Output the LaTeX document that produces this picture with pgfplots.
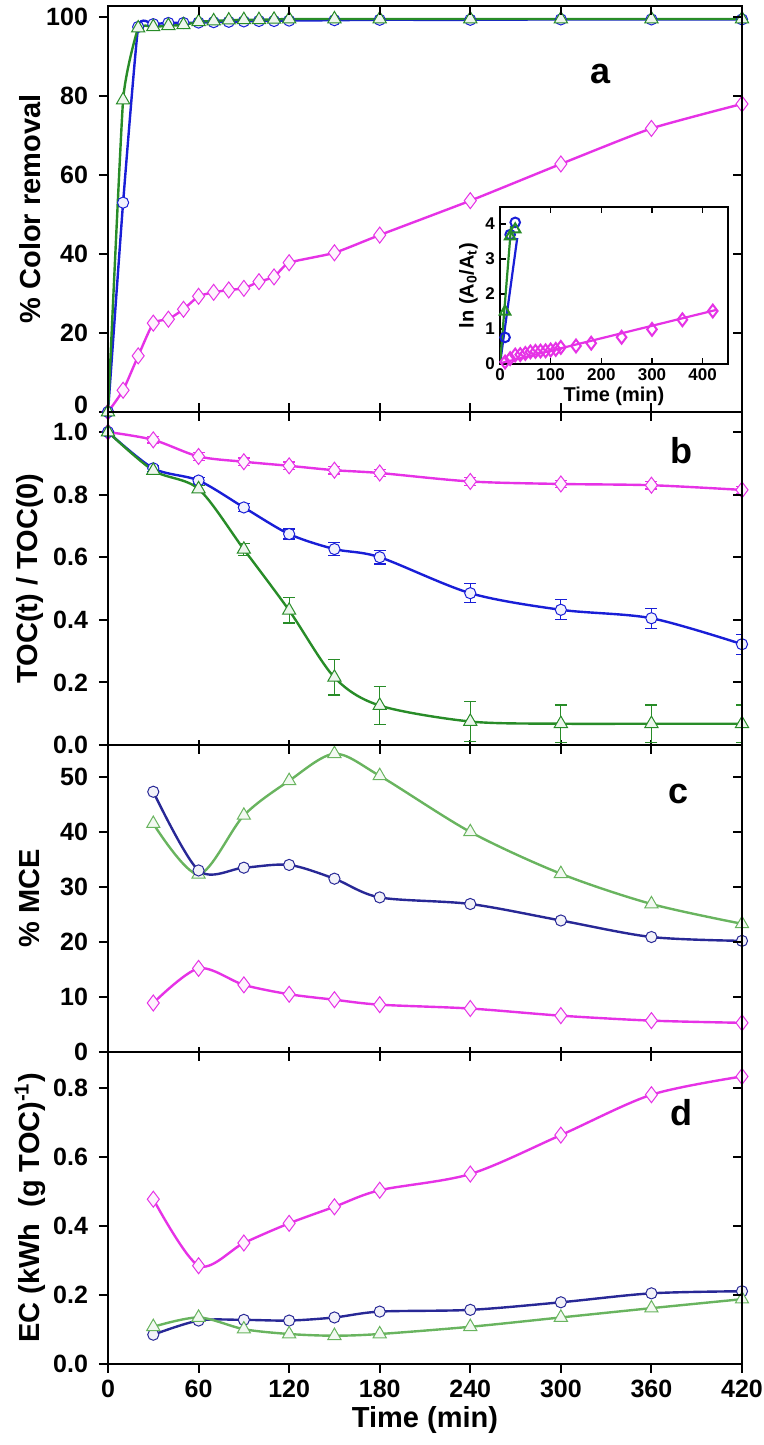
\documentclass[border=0pt]{standalone}
\usepackage{fontspec}
\setmainfont{Liberation Sans}
\usepackage{pgfplots}
\pgfplotsset{compat=1.18}
\definecolor{bluea}{RGB}{25,30,215}
\definecolor{navy}{RGB}{40,40,150}
\definecolor{greena}{RGB}{40,140,40}
\definecolor{greenc}{RGB}{105,180,95}
\definecolor{mag}{RGB}{230,50,230}

\tikzset{lbl/.style={font=\bfseries\fontsize{18}{18}\selectfont}}
\pgfplotsset{
  panel/.style={scale only axis, width=317pt, xmin=0, xmax=420, xtick={0,60,...,420},
    xticklabels={}, xtick pos=bottom, ytick pos=left, ytick align=outside, xtick align=center,
    major tick length=4.5pt, tick style={line width=1pt, black}, axis line style={line width=1.2pt},
    tick label style={font=\bfseries\fontsize{12.5}{12.5}\selectfont},
    yticklabel style={inner ysep=0.5pt, xshift=-2pt},
    /pgf/number format/assume math mode=true,
    every axis y label/.style={at={(axis description cs:-0.123,0.5)}, rotate=90, anchor=center,
      font=\bfseries\fontsize{14.5}{15}\selectfont}},
  ovl/.style={scale only axis, width=317pt, xmin=0, xmax=420, xtick={0,60,...,420},
    xticklabels={}, yticklabels={}, xtick pos=top, ytick pos=right, tick align=inside,
    major tick length=4.5pt, tick style={line width=1pt, black}, axis line style={line width=1.2pt}},
  circ/.style={mark=*, mark size=2.8pt, mark options={solid, fill=#1!6, draw=#1, line width=0.5pt}},
  tri/.style={mark=triangle*, mark size=3.8pt, mark options={solid, fill=#1!8, draw=#1, line width=0.5pt}},
  dia/.style={mark=diamond*, mark size=4pt, mark options={solid, fill=#1!6, draw=#1, line width=0.5pt}},
}

\begin{document}
\begin{tikzpicture}
\useasboundingbox (-54pt,-40.5pt) rectangle (328pt,682pt);

% ---------------- panel a ----------------
\begin{axis}[panel, at={(0,476pt)}, anchor=south west, height=203pt, ymin=0, ymax=102.8,
  ytick={20,40,...,100}, extra y ticks={0}, extra y tick style={yticklabel style={yshift=3.5pt}},
  ylabel={\% Color removal}, xtick align=inside]
\addplot[mag, line width=1.2pt, smooth, tension=0.3, dia=mag] coordinates {
  (0,0) (10,5.5) (20,14.2) (30,22.5) (40,23.5) (50,26) (60,29.3) (70,30.3) (80,30.9) (90,31.3)
  (100,33) (110,34.2) (120,37.8) (150,40.3) (180,44.8) (240,53.5) (300,62.8) (360,71.8) (420,78)};
\addplot[bluea, line width=1.2pt, smooth, tension=0.25, circ=bluea] coordinates {
  (0,0) (10,53) (20,97.5) (30,98.2) (40,98.5) (50,98.5) (60,98.6) (70,98.7) (80,98.8) (90,98.9)
  (100,99) (110,99) (120,99.1) (150,99.2) (180,99.3) (240,99.3) (300,99.4) (360,99.4) (420,99.4)};
\addplot[greena, line width=1.2pt, smooth, tension=0.25, tri=greena] coordinates {
  (0,0) (10,79) (20,97.2) (30,97.5) (40,97.8) (50,98) (60,98.8) (70,99) (80,99.2) (90,99.3)
  (100,99.3) (110,99.4) (120,99.5) (150,99.5) (180,99.5) (240,99.5) (300,99.5) (360,99.5) (420,99.5)};
\node[lbl] at (axis cs:326,85.5) {a};
\end{axis}
\begin{axis}[ovl, at={(0,476pt)}, anchor=south west, height=203pt, ymin=0, ymax=102.8, ytick={0,20,...,100}]
\end{axis}

% inset
\begin{axis}[scale only axis, at={(196pt,500pt)}, anchor=south west, width=114pt, height=78.5pt,
  xmin=0, xmax=450, ymin=0, ymax=4.49, xtick={0,100,...,400}, ytick={0,1,...,4},
  xtick pos=both, ytick pos=left, tick align=inside, major tick length=3pt,
  tick style={line width=0.7pt, black}, axis line style={line width=0.7pt},
  axis background/.style={fill=white},
  tick label style={font=\bfseries\fontsize{8.5}{8.5}\selectfont}, /pgf/number format/assume math mode=true,
  xticklabel style={yshift=1pt}, yticklabel style={xshift=1pt},
  xlabel={Time (min)}, ylabel={ln (A\textsubscript{0}/A\textsubscript{t})},
  label style={font=\bfseries\fontsize{10}{10}\selectfont},
  xlabel style={yshift=4pt}, ylabel style={yshift=-3pt}]
\addplot[mag, line width=1.1pt] coordinates {(0,0.02) (428,1.55)};
\addplot[only marks, mark=diamond, mark size=3.2pt, mark options={mag, line width=1pt}] coordinates {
  (10,0.057) (20,0.153) (30,0.255) (40,0.268) (50,0.301) (60,0.346) (70,0.36) (80,0.37) (90,0.376)
  (100,0.4) (110,0.418) (120,0.475) (150,0.515) (180,0.595) (240,0.765) (300,0.99) (360,1.265) (420,1.515)};
\addplot[bluea, line width=1.1pt] coordinates {(0,0) (34,3.6)};
\addplot[only marks, mark=o, mark size=2.4pt, mark options={bluea, line width=1pt}] coordinates {
  (10,0.76) (20,3.7) (30,4.05)};
\addplot[greena, line width=1.1pt] coordinates {(0,0) (22,3.95)};
\addplot[only marks, mark=triangle, mark size=3pt, mark options={greena, line width=1pt}] coordinates {
  (10,1.5) (20,3.65) (30,3.85)};
\end{axis}

% ---------------- panel b ----------------
\begin{axis}[panel, at={(0,309.5pt)}, anchor=south west, height=166.5pt, ymin=0, ymax=1.064,
  ytick={0,0.2,...,1.0}, ylabel={TOC(t) / TOC(0)},
  yticklabel style={/pgf/number format/.cd, fixed, fixed zerofill, precision=1}]
\addplot[mag, line width=1.2pt, smooth, tension=0.5, dia=mag,
  error bars/.cd, y dir=both, y explicit, error bar style={mag, line width=0.6pt},
  error mark options={rotate=90, mag, mark size=3pt, line width=0.6pt}] coordinates {
  (0,1.0) +- (0,0.005) (30,0.975) +- (0,0.01) (60,0.922) +- (0,0.012) (90,0.905) +- (0,0.012)
  (120,0.892) +- (0,0.012) (150,0.878) +- (0,0.012) (180,0.869) +- (0,0.012) (240,0.842) +- (0,0.012)
  (300,0.834) +- (0,0.012) (360,0.83) +- (0,0.012) (420,0.815) +- (0,0.012)};
\addplot[bluea, line width=1.2pt, smooth, tension=0.5, circ=bluea,
  error bars/.cd, y dir=both, y explicit, error bar style={bluea, line width=0.6pt},
  error mark options={rotate=90, bluea, mark size=3pt, line width=0.6pt}] coordinates {
  (0,1.0) +- (0,0.005) (30,0.884) +- (0,0.01) (60,0.845) +- (0,0.01) (90,0.759) +- (0,0.012)
  (120,0.674) +- (0,0.016) (150,0.626) +- (0,0.02) (180,0.60) +- (0,0.022) (240,0.485) +- (0,0.03)
  (300,0.432) +- (0,0.032) (360,0.405) +- (0,0.032) (420,0.322) +- (0,0.032)};
\addplot[greena, line width=1.2pt, smooth, tension=0.5, tri=greena,
  error bars/.cd, y dir=both, y explicit, error bar style={greena, line width=0.6pt},
  error mark options={rotate=90, greena, mark size=3pt, line width=0.6pt}] coordinates {
  (0,1.0) +- (0,0.005) (30,0.877) +- (0,0.012) (60,0.818) +- (0,0.012) (90,0.625) +- (0,0.02)
  (120,0.43) +- (0,0.04) (150,0.216) +- (0,0.056) (180,0.126) +- (0,0.061) (240,0.075) +- (0,0.065)
  (300,0.068) +- (0,0.06) (360,0.068) +- (0,0.06) (420,0.068) +- (0,0.06)};
\node[lbl] at (axis cs:380,0.94) {b};
\end{axis}
\begin{axis}[ovl, at={(0,309.5pt)}, anchor=south west, height=166.5pt, ymin=0, ymax=1.064, ytick={0,0.2,...,1.0}]
\end{axis}

% ---------------- panel c ----------------
\begin{axis}[panel, at={(0,156pt)}, anchor=south west, height=153.5pt, ymin=0, ymax=55.8,
  ytick={0,10,...,50}, ylabel={\% MCE}]
\addplot[mag, line width=1.2pt, smooth, tension=0.5, dia=mag] coordinates {
  (30,8.9) (60,15.2) (90,12.2) (120,10.5) (150,9.5) (180,8.6) (240,7.9) (300,6.6) (360,5.7) (420,5.3)};
\addplot[greenc, line width=1.2pt, smooth, tension=0.5, tri=greenc] coordinates {
  (30,41.5) (60,32.3) (90,43) (120,49.3) (150,54.2) (180,50.2) (240,40) (300,32.4) (360,26.9) (420,23.3)};
\addplot[navy, line width=1.2pt, smooth, tension=0.5, circ=navy] coordinates {
  (30,47.3) (60,33) (90,33.5) (120,34) (150,31.5) (180,28.1) (240,26.9) (300,23.9) (360,20.9) (420,20.2)};
\node[lbl] at (axis cs:378,46.9) {c};
\end{axis}
\begin{axis}[ovl, at={(0,156pt)}, anchor=south west, height=153.5pt, ymin=0, ymax=55.8, ytick={0,10,...,50}]
\end{axis}

% ---------------- panel d ----------------
\begin{axis}[panel, at={(0,0)}, anchor=south west, height=156pt, ymin=0, ymax=0.905,
  ytick={0,0.2,...,0.8}, xticklabels={0,60,120,180,240,300,360,420}, xtick align=outside,
  ylabel={EC (kWh\ \ (g TOC)\textsuperscript{-1})}, xlabel={Time (min)},
  xlabel style={at={(axis description cs:0.5,-0.18)}, anchor=center, font=\bfseries\fontsize{14.5}{15}\selectfont},
  yticklabel style={/pgf/number format/.cd, fixed, fixed zerofill, precision=1}]
\addplot[mag, line width=1.2pt, smooth, tension=0.5, dia=mag] coordinates {
  (30,0.478) (60,0.285) (90,0.351) (120,0.408) (150,0.456) (180,0.504) (240,0.551) (300,0.664) (360,0.781) (420,0.834)};
\addplot[navy, line width=1.2pt, smooth, tension=0.5, circ=navy] coordinates {
  (30,0.085) (60,0.126) (90,0.128) (120,0.126) (150,0.135) (180,0.152) (240,0.157) (300,0.179) (360,0.205) (420,0.211)};
\addplot[greenc, line width=1.2pt, smooth, tension=0.5, tri=greenc] coordinates {
  (30,0.108) (60,0.135) (90,0.101) (120,0.087) (150,0.082) (180,0.087) (240,0.108) (300,0.135) (360,0.162) (420,0.188)};
\node[lbl] at (axis cs:380,0.73) {d};
\end{axis}
\begin{axis}[ovl, at={(0,0)}, anchor=south west, height=156pt, ymin=0, ymax=0.905, ytick={0,0.2,...,0.8}]
\end{axis}
\end{tikzpicture}
\end{document}
